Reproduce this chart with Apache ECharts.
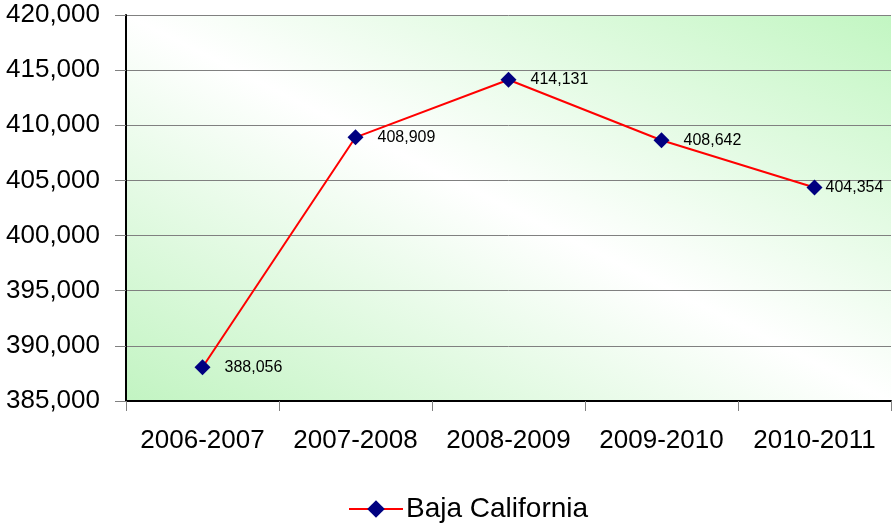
<!DOCTYPE html>
<html><head><meta charset="utf-8">
<script src="https://cdn.jsdelivr.net/npm/echarts@6/dist/echarts.min.js"></script>
<style>html,body{margin:0;padding:0;background:#fff}#c{width:892px;height:525px}</style>
</head><body><div id="c"></div>
<script>
const categories = ['2006-2007','2007-2008','2008-2009','2009-2010','2010-2011'];
const values = [388056, 408909, 414131, 408642, 404354];
const seriesName = 'Baja California';
const yMin = 385000, yMax = 420000, yStep = 5000;

const chart = echarts.init(document.getElementById('c'));
const fmt = v => v.toLocaleString('en-US');
const FONT = 'Liberation Sans, Arial, sans-serif';
const seriesData = values.map((v, i) => i === values.length - 1
  ? {value: v, label: {distance: 3}} : v);
chart.setOption({
  animation: false,
  textStyle: {fontFamily: FONT},
  grid: {left: 126, right: 1, top: 15, bottom: 124, show: true, borderWidth: 0,
    backgroundColor: {type: 'linear', x: 0.297, y: 1.297, x2: 0.703, y2: -0.297,
      colorStops: [{offset: 0, color: '#c2f4c2'}, {offset: 0.5, color: '#ffffff'}, {offset: 1, color: '#c2f6c2'}]}},
  legend: {bottom: -3, left: 343, itemWidth: 54, itemHeight: 22, itemGap: 6,
    textStyle: {fontSize: 28, color: '#000', fontFamily: FONT, padding: [0, 0, 0, -2]},
    data: [seriesName]},
  xAxis: {type: 'category', data: categories, boundaryGap: true,
    axisLine: {lineStyle: {color: '#000', width: 2}},
    axisTick: {show: true, length: 10, lineStyle: {color: '#808080'}},
    axisLabel: {fontSize: 26, color: '#000', margin: 27, fontFamily: FONT, interval: 0}},
  yAxis: {type: 'value', min: yMin, max: yMax, interval: yStep,
    axisLine: {show: true, lineStyle: {color: '#000', width: 2}},
    axisTick: {show: true, length: 11, lineStyle: {color: '#808080'}},
    splitLine: {lineStyle: {color: '#808080', width: 1}},
    axisLabel: {fontSize: 26, color: '#000', margin: 26, formatter: fmt, fontFamily: FONT}},
  series: [{
    name: seriesName, type: 'line', data: seriesData,
    symbol: 'diamond', symbolSize: 16,
    lineStyle: {color: '#ff0000', width: 2},
    itemStyle: {color: '#000080'},
    label: {show: true, position: 'right', distance: 14, fontSize: 16, color: '#000', fontFamily: FONT,
      formatter: p => fmt(p.value)}
  }]
});
</script></body></html>
